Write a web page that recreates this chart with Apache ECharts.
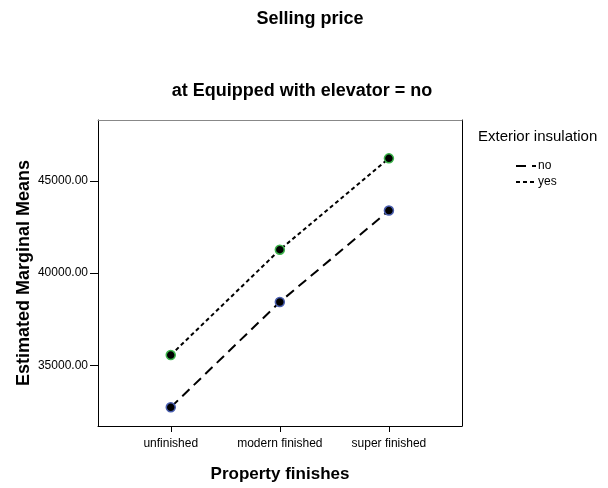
<!DOCTYPE html>
<html>
<head>
<meta charset="utf-8">
<script src="https://cdn.jsdelivr.net/npm/echarts@6/dist/echarts.min.js"></script>
<style>
  html, body { margin: 0; padding: 0; background: #fff; }
  #chart { width: 608px; height: 488px; }
</style>
</head>
<body>
<div id="chart"></div>
<script>
// 数据
const categories = ['unfinished', 'modern finished', 'super finished'];
const noValues = [32740, 38440, 43390];
const yesValues = [35570, 41270, 46215];
const yTicks = [35000, 40000, 45000];

const font = 'Liberation Sans, Arial, sans-serif';

// 类别位置 1,2,3
const toPoints = (vals) => vals.map((v, i) => [i + 1, v]);
const catPos = categories.map((c, i) => i + 1);

const chart = echarts.init(document.getElementById('chart'));

const option = {
    backgroundColor: '#fff',
    animation: false,
    title: [
        {
            text: 'Selling price',
            left: 305, top: 5, textAlign: 'center',
            textStyle: { fontFamily: font, fontSize: 18, fontWeight: 'bold', color: '#000' }
        },
        {
            text: 'at Equipped with elevator = no',
            left: 297, top: 77, textAlign: 'center',
            textStyle: { fontFamily: font, fontSize: 18, fontWeight: 'bold', color: '#000' }
        },
        {
            text: 'Exterior insulation',
            left: 473, top: 124,
            textStyle: { fontFamily: font, fontSize: 15, fontWeight: 'normal', color: '#000' }
        }
    ],
    legend: {
        orient: 'vertical',
        left: 510, top: 155,
        itemWidth: 20, itemHeight: 8, itemGap: 4,
        data: ['no', 'yes'],
        itemStyle: { opacity: 0 },
        textStyle: { fontFamily: font, fontSize: 12, color: '#000', padding: [0, 0, 0, -3] }
    },
    grid: { left: 98, top: 120, width: 364, height: 308 },
    xAxis: [
        {
            type: 'value',
            min: 0.333, max: 3.67,
            name: 'Property finishes',
            nameLocation: 'middle', nameGap: 40,
            nameMoveOverlap: false,
            nameTextStyle: { fontFamily: font, fontSize: 17, fontWeight: 'bold', color: '#000' },
            splitLine: { show: false },
            axisLine: { show: true, lineStyle: { color: '#000', width: 1 } },
            axisTick: { show: true, customValues: catPos, length: 6, lineStyle: { color: '#000' } },
            axisLabel: {
                customValues: catPos, margin: 12,
                fontFamily: font, fontSize: 12, color: '#000',
                formatter: (v) => categories[Math.round(v) - 1] || ''
            }
        },
        {
            type: 'value', position: 'top',
            min: 0.333, max: 3.67,
            axisLine: { show: true, lineStyle: { color: '#888', width: 1 } },
            axisTick: { show: false }, axisLabel: { show: false }, splitLine: { show: false }
        }
    ],
    yAxis: [
        {
            type: 'value',
            min: 31730, max: 48290,
            name: 'Estimated Marginal Means',
            nameLocation: 'middle', nameGap: 65,
            nameMoveOverlap: false,
            nameTextStyle: { fontFamily: font, fontSize: 18, fontWeight: 'bold', color: '#000' },
            splitLine: { show: false },
            axisLine: { show: true, lineStyle: { color: '#000', width: 1 } },
            axisTick: { show: true, customValues: yTicks, length: 8, lineStyle: { color: '#000' } },
            axisLabel: {
                customValues: yTicks, margin: 10,
                fontFamily: font, fontSize: 12, color: '#000',
                formatter: (v) => v.toFixed(2)
            }
        },
        {
            type: 'value', position: 'right',
            min: 31730, max: 48290,
            axisLine: { show: true, lineStyle: { color: '#000', width: 1 } },
            axisTick: { show: false }, axisLabel: { show: false }, splitLine: { show: false }
        }
    ],
    series: [
        {
            name: 'no',
            type: 'line',
            data: toPoints(noValues),
            symbol: 'circle', symbolSize: 9,
            itemStyle: { color: '#000', borderColor: '#4a5fb0', borderWidth: 1.5 },
            lineStyle: { color: '#000', width: 2, type: [10, 6] }
        },
        {
            name: 'yes',
            type: 'line',
            data: toPoints(yesValues),
            symbol: 'circle', symbolSize: 9,
            itemStyle: { color: '#000', borderColor: '#3cb44b', borderWidth: 1.5 },
            lineStyle: { color: '#000', width: 2, type: [4, 3] }
        }
    ]
};

chart.setOption(option);
</script>
</body>
</html>
